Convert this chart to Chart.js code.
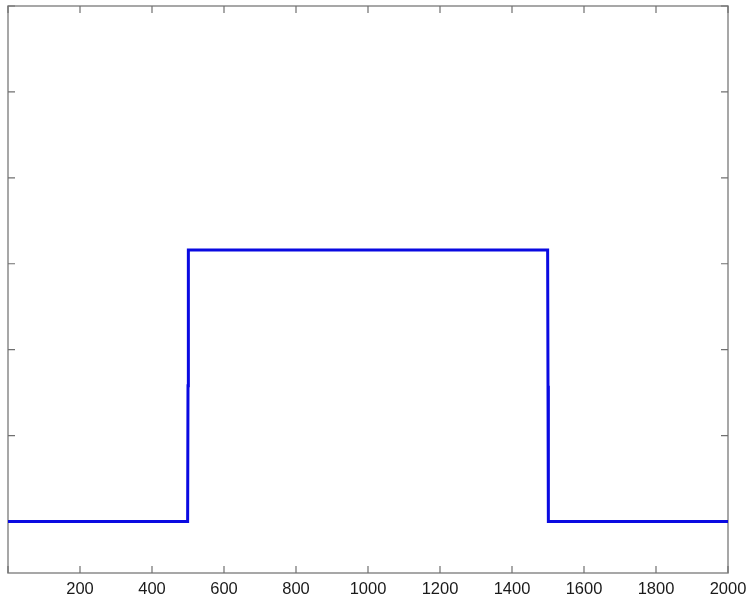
<!DOCTYPE html>
<html>
<head>
<meta charset="utf-8">
<script src="https://cdn.jsdelivr.net/npm/chart.js@4.4.1/dist/chart.umd.min.js"></script>
<style>
  html, body { margin: 0; padding: 0; background: #fff; }
  #wrap { width: 746px; height: 597px; }
</style>
</head>
<body>
<div id="wrap"><canvas id="grafico"></canvas></div>
<script>
// rectangular pulse
var xVals = [0, 499, 500, 501, 1499, 1500, 1501, 2000];
var yVals = [0, 0, 1.58, 3.16, 3.16, 1.58, 0, 0];
var xTicks = [0, 200, 400, 600, 800, 1000, 1200, 1400, 1600, 1800, 2000];
var yTicks = [0, 1, 2, 3, 4, 5, 6];

var puntos = xVals.map(function(x, i){ return {x: x, y: yVals[i]}; });

//--------------------------------------------------------------------------------------
// caja y marcas hacia adentro (estilo matlab)
//--------------------------------------------------------------------------------------
var cajaPlugin = {
  id: 'caja',
  beforeDatasetsDraw: function(chart){
    var ctx = chart.ctx, a = chart.chartArea;
    var sx = chart.scales.x, sy = chart.scales.y;
    var len = 7;
    ctx.save();
    ctx.strokeStyle = '#8a8a8a';
    ctx.lineWidth = 1.5;
    ctx.strokeRect(a.left, a.top, a.right - a.left, a.bottom - a.top);
    ctx.strokeStyle = '#707070';
    ctx.lineWidth = 1.2;
    ctx.beginPath();
    xTicks.forEach(function(v){
      var px = sx.getPixelForValue(v);
      ctx.moveTo(px, a.bottom); ctx.lineTo(px, a.bottom - len);
      ctx.moveTo(px, a.top); ctx.lineTo(px, a.top + len);
    });
    yTicks.forEach(function(v){
      var py = sy.getPixelForValue(v);
      ctx.moveTo(a.left, py); ctx.lineTo(a.left + len, py);
      ctx.moveTo(a.right, py); ctx.lineTo(a.right - len, py);
    });
    ctx.stroke();
    ctx.restore();
  }
};

var ctx = document.getElementById('grafico').getContext('2d');
var grafico = new Chart(ctx, {
  type: 'scatter',
  data: {
    datasets: [{
      data: puntos,
      showLine: true,
      borderColor: 'rgb(10, 10, 225)',
      borderWidth: 3,
      pointRadius: 0,
      tension: 0,
      borderJoinStyle: 'miter',
      fill: false
    }]
  },
  options: {
    responsive: true,
    maintainAspectRatio: false,
    animation: false,
    layout: { padding: { left: 8, right: 18, top: 6, bottom: 0 } },
    plugins: {
      legend: { display: false },
      tooltip: { enabled: false }
    },
    scales: {
      x: {
        type: 'linear',
        min: 0,
        max: 2000,
        afterBuildTicks: function(s){ s.ticks = xTicks.map(function(v){ return {value: v}; }); },
        afterFit: function(s){ s.paddingLeft = 0; s.paddingRight = 0; s.height = 24; },
        grid: { display: false, drawTicks: false },
        border: { display: false },
        ticks: {
          maxRotation: 0,
          autoSkip: false,
          padding: 7,
          color: '#1a1a1a',
          font: { family: 'Liberation Sans', size: 16.5 },
          callback: function(v){ return v === 0 ? '' : v; }
        }
      },
      y: {
        type: 'linear',
        min: -0.6,
        max: 6,
        afterBuildTicks: function(s){ s.ticks = yTicks.map(function(v){ return {value: v}; }); },
        afterFit: function(s){ s.width = 0; },
        grid: { display: false, drawTicks: false },
        border: { display: false },
        ticks: { display: false }
      }
    }
  },
  plugins: [cajaPlugin]
});
</script>
</body>
</html>
